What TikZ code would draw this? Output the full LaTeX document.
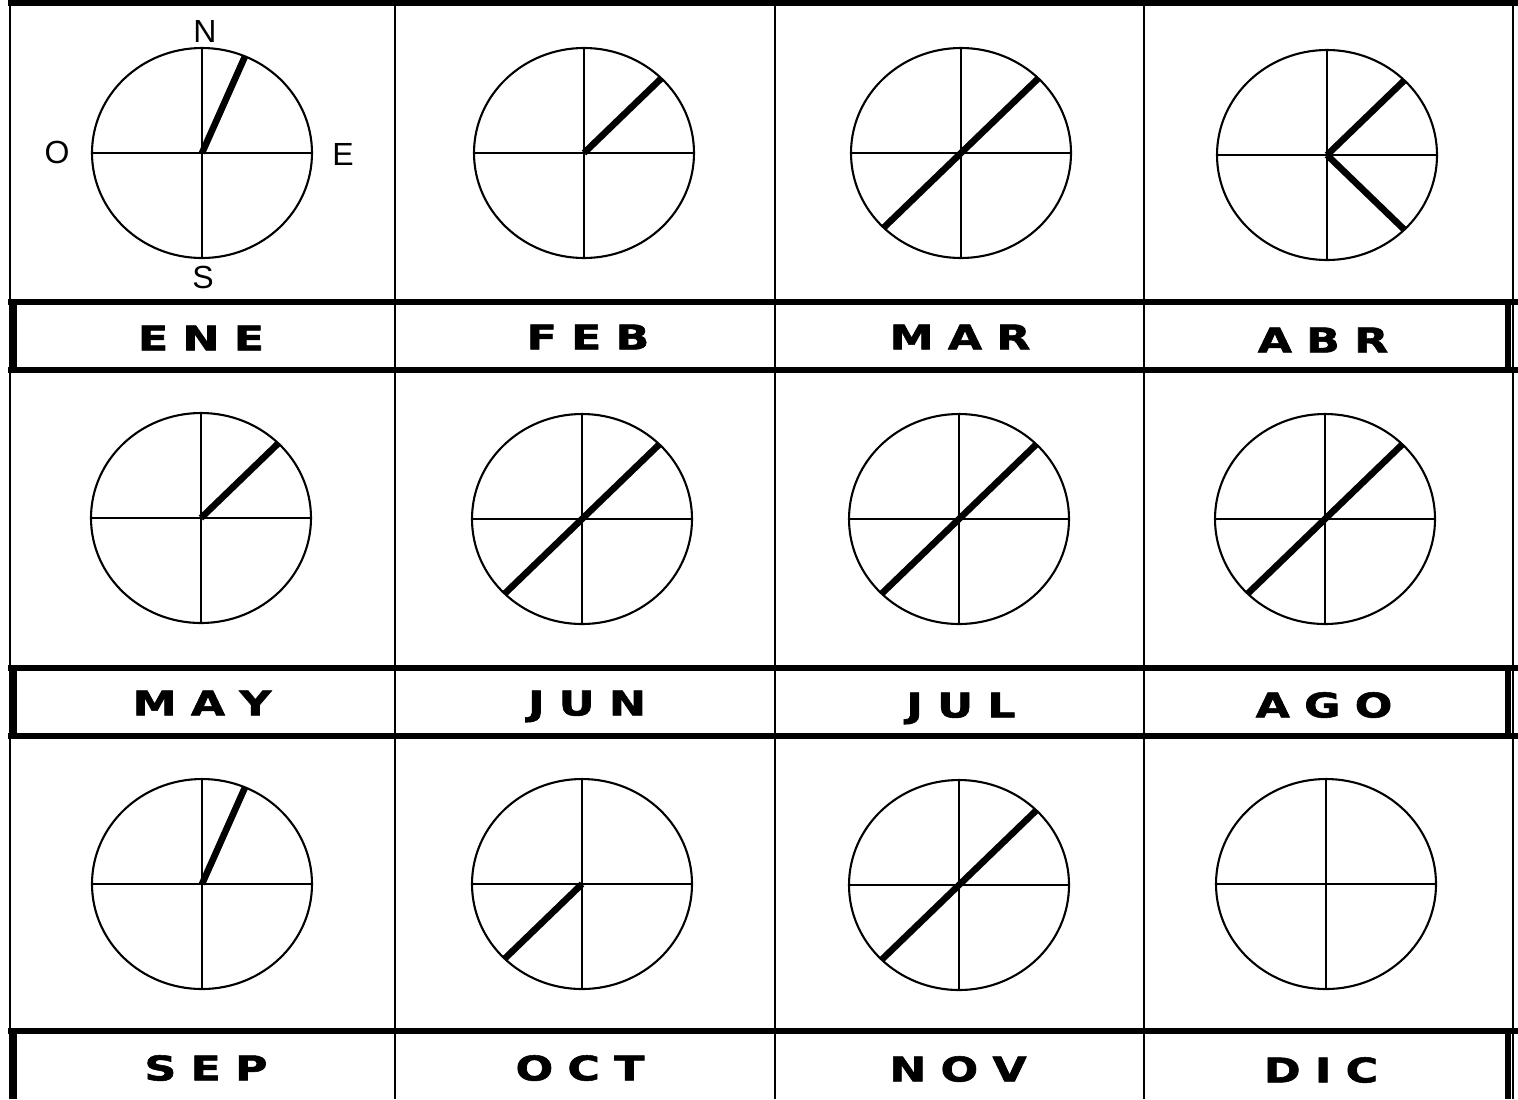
\documentclass[tikz,border=0pt]{standalone}
\usepackage{fontspec}
\usetikzlibrary{shapes.geometric}
\newfontfamily\lblfont{DejaVu Sans}[BoldFeatures={FakeBold=1.6}]
\newfontfamily\cmpfont{Liberation Sans}
\newcommand\mlbl[3]{\scalebox{1.3}[1]{#1\hspace{5.5pt}#2\hspace{5.5pt}#3}}
\newcommand\mkdial[3]{%
  \node[dial] (#1) at (#2,#3) {};
  \draw[axis] (#1.north) -- (#1.south) (#1.west) -- (#1.east);}
\tikzset{
  thin grid/.style={line width=1pt},
  band line/.style={line width=2.6pt},
  dial/.style={ellipse, draw, line width=1.05pt, inner sep=0pt, outer sep=0pt,
    minimum width=110pt, minimum height=105pt},
  axis/.style={line width=0.95pt},
  needle/.style={line width=3.3pt},
  month/.style={inner sep=0pt, text height=12.4pt, text depth=0pt,
    font=\lblfont\bfseries\fontsize{17pt}{17pt}\selectfont},
  compass/.style={inner sep=0pt, text height=11.5pt, text depth=0pt,
    font=\cmpfont\fontsize{16pt}{16pt}\selectfont}
}
\begin{document}
\begin{tikzpicture}[x=0.5pt,y=-0.5pt]
\useasboundingbox (0,0) rectangle (1518,1099);
\fill[white] (0,0) rectangle (1518,1099);
% grid
\draw[line width=3pt] (8,3) -- (1518,3);
\draw[thin grid] (10,3) -- (10,1099);
\draw[thin grid] (1513,3) -- (1513,1099);
\foreach \x in {395,775,1144} \draw[line width=1.2pt] (\x,3) -- (\x,1099);
\foreach \y in {302,370,668,736,1031} \draw[band line] (8,\y) -- (1518,\y);
\foreach \a/\b in {302/370,668/736,1031/1099} {
  \draw[band line] (14,\a) -- (14,\b);
  \draw[band line] (1508,\a) -- (1508,\b);
}
% dials row 1
\mkdial{ene}{202}{153}
\mkdial{feb}{584}{153}
\mkdial{mar}{961}{153}
\mkdial{abr}{1327}{155}
% row 2
\mkdial{may}{201}{518}
\mkdial{jun}{582}{519}
\mkdial{jul}{959}{519}
\mkdial{ago}{1325}{519}
% row 3
\mkdial{sep}{202}{884}
\mkdial{oct}{582}{884}
\mkdial{nov}{959}{885}
\mkdial{dic}{1326}{884}
% needles
\draw[needle] (ene.center) -- (ene.66);
\draw[needle] (feb.center) -- (feb.44);
\draw[needle] (mar.224) -- (mar.44);
\draw[needle] (abr.center) -- (abr.44);
\draw[needle] (abr.center) -- (abr.-44);
\draw[needle] (may.center) -- (may.44);
\draw[needle] (jun.224) -- (jun.44);
\draw[needle] (jul.224) -- (jul.44);
\draw[needle] (ago.224) -- (ago.44);
\draw[needle] (sep.center) -- (sep.66);
\draw[needle] (oct.center) -- (oct.224);
\draw[needle] (nov.224) -- (nov.44);
% compass letters
\node[compass] (cn) at (205,31) {N};
\node[compass] (co) at (57,152) {O};
\node[compass] (ce) at (343,154) {E};
\node[compass] (cs) at (203,277) {S};
% month labels
\node[month] (lene) at (201,338) {\mlbl ENE};
\node[month] (lfeb) at (588,337) {\mlbl FEB};
\node[month] (lmar) at (960,337) {\mlbl MAR};
\node[month] (labr) at (1323,340) {\mlbl ABR};
\node[month] (lmay) at (202,703) {\mlbl MAY};
\node[month] (ljun) at (587,703) {\mlbl JUN};
\node[month] (ljul) at (961,705) {\mlbl JUL};
\node[month] (lago) at (1324,705) {\mlbl AGO};
\node[month] (lsep) at (206,1068) {\mlbl SEP};
\node[month] (loct) at (580,1068) {\mlbl OCT};
\node[month] (lnov) at (958,1069) {\mlbl NOV};
\node[month] (ldic) at (1321,1070) {\mlbl DIC};
\end{tikzpicture}
\end{document}
